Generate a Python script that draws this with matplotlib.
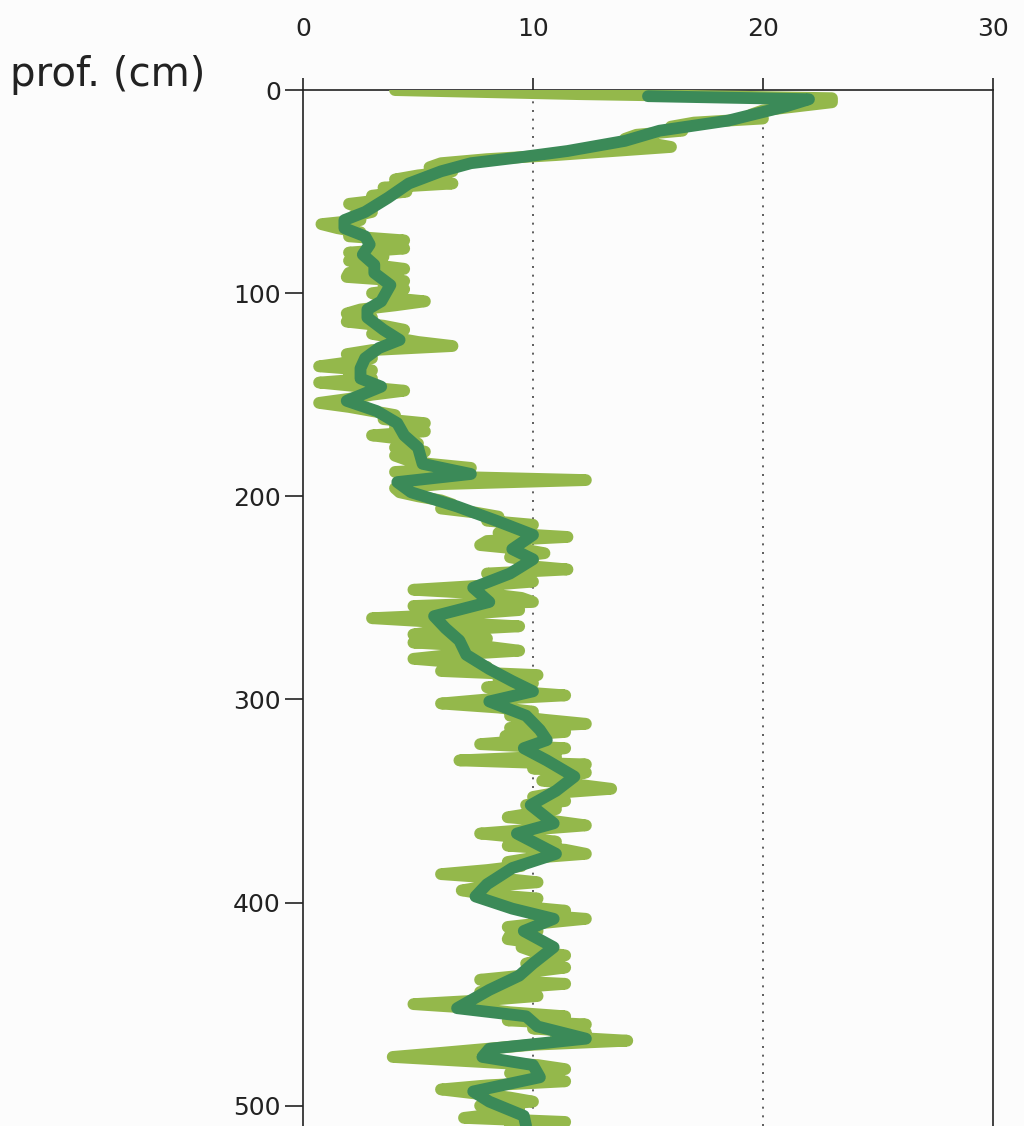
import matplotlib
matplotlib.use("Agg")
import matplotlib.pyplot as plt

# raw profile, sampled every 2 cm (depth in cm, value)
raw_depth = list(range(0, 512, 2))
raw_value = [
    4.0, 12, 23, 23, 21.5, 20, 19.5, 20, 17, 16,
    16.5, 14.5, 14, 15, 16, 13.5, 11, 8, 6, 5.5,
    6.5, 5.0, 4, 6.5, 3.5, 4.5, 3, 3.5, 2, 2.5,
    3, 2.2, 2.5, 0.8, 1.5, 2.5, 2, 4.4, 3, 4.4,
    2, 3.5, 2, 3, 4.4, 2, 1.9, 4.4, 3.5, 4.4,
    3, 3.5, 5.3, 4, 2.5, 1.9, 3, 1.9, 3.5, 4.4,
    3, 4, 5, 6.5, 3, 1.9, 3, 2, 0.7, 3,
    2, 3, 0.7, 2.5, 4.4, 3, 2, 0.7, 2, 3,
    4, 3.5, 5.3, 4, 5.3, 3, 4.5, 5, 4, 5.3,
    4, 4.5, 5.5, 7.3, 4, 5, 12.3, 6, 4, 4.2,
    5, 6, 6.5, 6, 7.5, 8.5, 8, 10, 9.5, 8.5,
    11.5, 8, 7.7, 9.5, 10.5, 9, 10, 9.5, 11.5, 8,
    9, 10, 7.7, 4.8, 8, 9.5, 10, 4.8, 9.4, 7,
    3, 6, 9.4, 6, 4.8, 8, 4.8, 8, 9.4, 6.5,
    4.8, 7, 8, 6, 10.2, 8.5, 10, 8, 9, 11.4,
    8, 6, 8.5, 10, 9, 10.5, 12.3, 9, 11.4, 8.8,
    10, 7.7, 11.4, 10, 11, 6.8, 12.3, 10, 12.3, 11,
    10.4, 12, 13.4, 11, 10, 11.4, 9.7, 11, 10, 8.9,
    11, 12.3, 10, 7.7, 9.5, 11, 8.9, 11.4, 12.3, 10,
    8.9, 9.5, 8, 6, 8.5, 10.2, 8, 6.9, 8, 10.2,
    9, 9.5, 11.4, 10, 12.3, 10.5, 8.9, 10.2, 9, 8.9,
    10.2, 9.5, 10, 11.4, 10.5, 9.7, 11.4, 10, 9.5, 7.7,
    11.4, 9, 7.7, 10.2, 8, 4.8, 7.5, 9, 11.4, 8.9,
    12.3, 10, 12.3, 11, 14.1, 10, 8, 6, 3.9, 7,
    10.2, 11.4, 9, 10, 11.4, 8, 6, 7.5, 9, 10,
    7.7, 9.4, 8.5, 7, 11.4, 9,
]

# smoothed profile
smooth_depth = [
    3, 4.5, 8, 15, 20, 25, 30, 33, 36, 40,
    46, 53, 60, 64, 68, 72, 76, 81, 86, 90,
    96, 100, 104, 108, 112, 118, 123, 127, 132, 137,
    142, 146, 153, 158, 164, 170, 176, 184, 189, 193,
    198, 205, 212, 219, 226, 231, 238, 245, 252, 259,
    265, 271, 278, 285, 291, 296, 301, 308, 315, 320,
    324, 330, 338, 345, 352, 361, 366, 376, 383, 391,
    397, 403, 408, 414, 422, 430, 436, 443, 452, 456,
    461, 467, 472, 476, 480, 486, 493, 498, 505, 510,
]
smooth_value = [
    15, 22, 21, 18.5, 15.5, 14, 11.5, 9.5, 7.3, 6,
    4.6, 3.7, 2.7, 1.8, 1.8, 2.7, 2.9, 2.6, 3.1, 3.1,
    3.8, 3.6, 3.4, 2.8, 2.8, 3.5, 4.2, 3.3, 2.7, 2.5,
    2.5, 3.4, 1.9, 3.2, 4.1, 4.4, 5, 5.2, 7.3, 4.1,
    4.7, 6.7, 8.4, 10, 9.1, 10, 9, 7.4, 8.1, 5.7,
    6.2, 6.8, 7.1, 8.1, 9.1, 10, 8.1, 9.7, 10.3, 10.6,
    9.6, 10.6, 11.8, 11, 9.9, 10.9, 9.3, 11, 9.1, 8,
    7.5, 9.1, 10.9, 9.6, 10.9, 10, 9.4, 8.1, 6.7, 9.7,
    10.2, 12.3, 8.1, 7.8, 10, 10.3, 7.4, 8.1, 9.6, 9.7,
]

x_ticks = [0, 10, 20, 30]
y_ticks = [0, 100, 200, 300, 400, 500]

light_green = "#94b84b"
dark_green = "#3b8a58"
axis_color = "#222222"

fig = plt.figure(figsize=(10.24, 11.26), dpi=100, facecolor="#fcfcfc")
ax = fig.add_axes([0.2959, 0.0, 0.6738, 0.920])
ax.set_facecolor("#fcfcfc")

ax.plot(raw_value, raw_depth, color=light_green, lw=8.5,
        solid_joinstyle="round", solid_capstyle="round", zorder=3)
ax.plot(smooth_value, smooth_depth, color=dark_green, lw=8.5,
        solid_joinstyle="round", solid_capstyle="round", zorder=4)

for gx in [10, 20]:
    ax.axvline(gx, color="#444444", lw=1.2, ls=(0, (1.2, 4)), zorder=1)

ax.set_xlim(0, 30)
ax.set_ylim(510, 0)
ax.xaxis.tick_top()
ax.set_xticks(x_ticks)
ax.set_yticks(y_ticks)
ax.tick_params(axis="x", direction="out", length=9, width=1.2, pad=26,
               labelsize=18, colors=axis_color)
ax.tick_params(axis="y", direction="out", length=13, width=1.2, pad=3,
               labelsize=18, colors=axis_color)

for side in ["left", "top", "right"]:
    ax.spines[side].set_color(axis_color)
    ax.spines[side].set_linewidth(1.2)
ax.spines["bottom"].set_visible(False)

fig.text(0.010, 0.933, "prof. (cm)", fontsize=29, color=axis_color,
         ha="left", va="center")

fig.savefig("out.png", dpi=100, facecolor=fig.get_facecolor())
